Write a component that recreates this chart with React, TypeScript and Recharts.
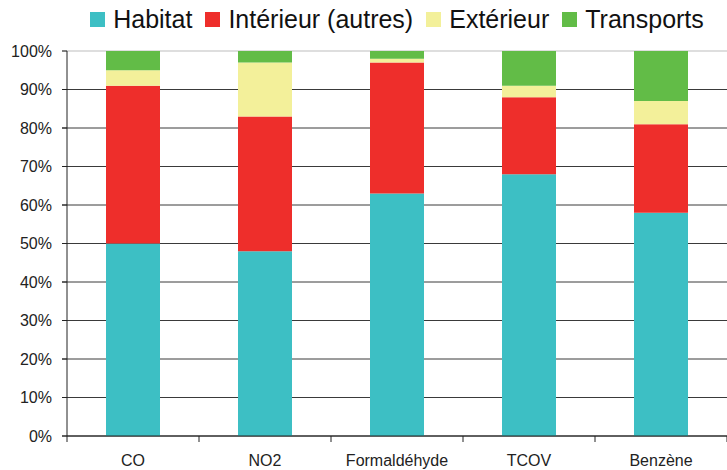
import React from "react";
import { BarChart, Bar, XAxis, YAxis, CartesianGrid, Legend } from "recharts";

const categories = ["CO", "NO2", "Formaldéhyde", "TCOV", "Benzène"];
const habitat = [50, 48, 63, 68, 58];
const interieur = [41, 35, 34, 20, 23];
const exterieur = [4, 14, 1, 3, 6];
const transports = [5, 3, 2, 9, 13];
const yTicks = [0, 10, 20, 30, 40, 50, 60, 70, 80, 90, 100];

const seriesNames = ["Habitat", "Intérieur (autres)", "Extérieur", "Transports"];
const seriesKeys = ["habitat", "interieur", "exterieur", "transports"];
const colors = ["#3DBFC4", "#EE2E2B", "#F3F09A", "#62BC47"];

const data = categories.map((c, i) => ({
  name: c,
  habitat: habitat[i],
  interieur: interieur[i],
  exterieur: exterieur[i],
  transports: transports[i],
}));

const W = 727;
const H = 470;
const LEFT = 67;
const BAND = (W - LEFT) / categories.length;
const FONT = "'Liberation Sans', Arial, sans-serif";

const LegendContent = () => (
  <div
    style={{
      display: "flex",
      justifyContent: "center",
      alignItems: "center",
      height: 39,
      fontFamily: FONT,
      fontSize: 25,
      color: "#111",
      whiteSpace: "nowrap",
    }}
  >
    {seriesNames.map((n, i) => (
      <span key={n} style={{ display: "flex", alignItems: "center", marginRight: i < 3 ? 13 : 0 }}>
        <span style={{ display: "inline-block", width: 15, height: 15, background: colors[i], marginRight: 8 }} />
        {n}
      </span>
    ))}
  </div>
);

const XTick = (props: any) => {
  const { x, y, payload, index } = props;
  const left = x - BAND / 2;
  return (
    <g>
      <line x1={left} x2={left} y1={y} y2={y + 6} stroke="#222" strokeWidth={1} />
      {index === categories.length - 1 && (
        <line x1={x + BAND / 2} x2={x + BAND / 2} y1={y} y2={y + 6} stroke="#222" strokeWidth={1} />
      )}
      <text x={x} y={y + 30} textAnchor="middle" fontFamily={FONT} fontSize={16} fill="#222">
        {payload.value}
      </text>
    </g>
  );
};

const GridLine = (props: any) => {
  const { x1, x2, y1, y2, index } = props;
  const isTop = index === yTicks.length - 1 || y1 < 60;
  return (
    <line
      x1={x1 - 5}
      x2={x2}
      y1={y1}
      y2={y2}
      stroke={isTop ? "#bdbdbd" : "#3a3a3a"}
      strokeWidth={1}
    />
  );
};

export default function App() {
  return (
    <div style={{ position: "absolute", left: 0, top: 0, background: "#fff" }}>
      <BarChart
        width={W}
        height={H}
        data={data}
        margin={{ top: 12, right: 0, bottom: 4, left: 0 }}
      >
        <Legend
          verticalAlign="top"
          content={<LegendContent />}
          wrapperStyle={{ left: LEFT, width: W - LEFT, top: 0 }}
        />
        <CartesianGrid vertical={false} horizontal={GridLine as any} />
        <XAxis
          dataKey="name"
          tickLine={false}
          tickSize={0}
          tickMargin={0}
          axisLine={{ stroke: "#222" }}
          tick={<XTick />}
          interval={0}
          height={30}
        />
        <YAxis
          width={LEFT}
          domain={[0, 100]}
          ticks={yTicks}
          tickFormatter={(v: number) => `${v}%`}
          tickSize={5}
          tickMargin={10}
          tickLine={{ stroke: "#222" }}
          axisLine={{ stroke: "#222" }}
          tick={{ fontFamily: FONT, fontSize: 16, fill: "#222" }}
          interval={0}
        />
        {seriesKeys.map((k, i) => (
          <Bar
            key={k}
            dataKey={k}
            name={seriesNames[i]}
            stackId="a"
            fill={colors[i]}
            barSize={54}
            isAnimationActive={false}
          />
        ))}
      </BarChart>
    </div>
  );
}
